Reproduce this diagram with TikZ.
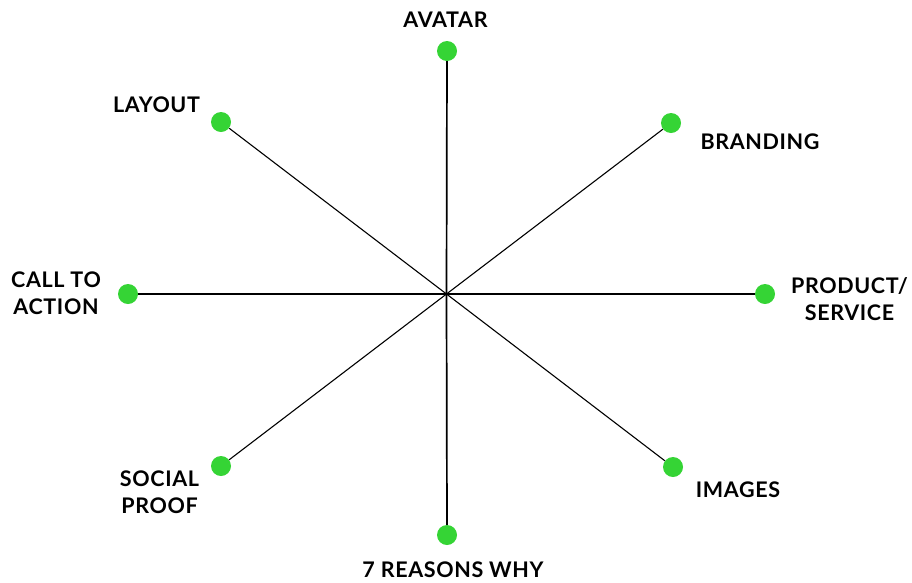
\documentclass[tikz,border=0pt]{standalone}
\usepackage{fontspec}
\setmainfont{Lato}[LetterSpace=3]
\usepackage{tikz}
\definecolor{dotgreen}{RGB}{53,212,53}
\tikzset{
  dot/.style={circle, fill=dotgreen, inner sep=0pt, minimum size=20pt},
  lbl/.style={align=center, inner sep=0pt, font=\bfseries\fontsize{21.5}{27}\selectfont},
  spoke/.style={black, line width=1.1pt},
  axis/.style={black, line width=1.7pt}
}

\begin{document}
\begin{tikzpicture}[x=1pt, y=-1pt]
\useasboundingbox (0,0) rectangle (912,582);
\coordinate (hub) at (446.5,294);

% dots round the hub
\foreach \name/\px/\py in {avatar/447/51, branding/671/123, product/765/294,
  images/673/467, reasons/447/535, social/221/466, calltoaction/128/294, layout/221/122} {
  \node[dot] (\name) at (\px,\py) {};
}

\draw[axis] (hub) -- (avatar);
\draw[axis] (hub) -- (reasons);
\draw[axis] (hub) -- (product);
\draw[axis] (hub) -- (calltoaction);
\draw[spoke] (hub) -- (branding);
\draw[spoke] (hub) -- (images);
\draw[spoke] (hub) -- (social);
\draw[spoke] (hub) -- (layout);

% labels
\node[lbl] (avatartext) at (445.5,19.5) {AVATAR};
\node[lbl] (brandingtext) at (760,141.5) {BRANDING};
\node[lbl] (producttext) at (849.5,299.5) {PRODUCT/\\SERVICE};
\node[lbl] (imagestext) at (738,490) {IMAGES};
\node[lbl] (reasonstext) at (453,570) {7 REASONS WHY};
\node[lbl] (socialtext) at (159.5,492) {SOCIAL\\PROOF};
\node[lbl] (calltext) at (56,293) {CALL TO\\ACTION};
\node[lbl] (layouttext) at (156.5,104.5) {LAYOUT};
\end{tikzpicture}
\end{document}
